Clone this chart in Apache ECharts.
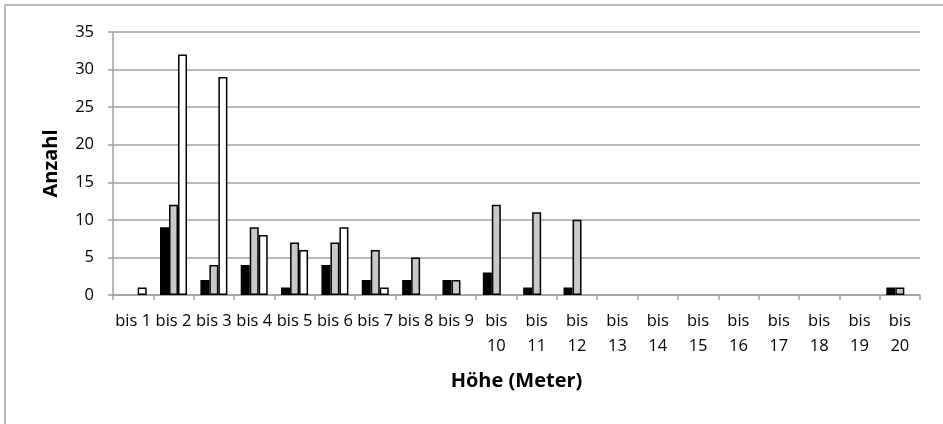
<!DOCTYPE html>
<html>
<head>
<meta charset="utf-8">
<script src="https://cdn.jsdelivr.net/npm/echarts@6/dist/echarts.min.js"></script>
<style>
  html, body { margin: 0; padding: 0; background: #fff; }
  #chart { width: 943px; height: 424px; }
</style>
</head>
<body>
<div id="chart"></div>
<script>
const categories = [
  "bis 1", "bis 2", "bis 3", "bis 4", "bis 5", "bis 6", "bis 7", "bis 8", "bis 9", "bis 10",
  "bis 11", "bis 12", "bis 13", "bis 14", "bis 15", "bis 16", "bis 17", "bis 18", "bis 19", "bis 20"
];
const blackValues = [0, 9, 2, 4, 1, 4, 2, 2, 2, 3, 1, 1, 0, 0, 0, 0, 0, 0, 0, 1];
const grayValues  = [0, 12, 4, 9, 7, 7, 6, 5, 2, 12, 11, 10, 0, 0, 0, 0, 0, 0, 0, 1];
const whiteValues = [1, 32, 29, 8, 6, 9, 1, 0, 0, 0, 0, 0, 0, 0, 0, 0, 0, 0, 0, 0];

const font = "'Open Sans', sans-serif";

// zero values are not drawn (Excel shows nothing there)
const bars = (values) => values.map((v) => (v === 0 ? null : v));

const makeSeries = (name, values, color) => ({
  name,
  type: "bar",
  data: bars(values),
  barWidth: 9,
  barGap: "0%",
  itemStyle: { color, borderColor: "#000", borderWidth: 1.5 },
  animation: false,
});

const chart = echarts.init(document.getElementById("chart"));
chart.setOption({
  backgroundColor: "#fff",
  animation: false,
  graphic: [
    {
      type: "rect",
      shape: { x: 5, y: 5, width: 960, height: 440 },
      style: { fill: "none", stroke: "#a6a6a6", lineWidth: 1.5 },
      silent: true,
    },
  ],
  grid: { left: 113, right: 23, top: 32, bottom: 129 },
  xAxis: {
    type: "category",
    data: categories,
    name: "Höhe (Meter)",
    nameLocation: "middle",
    nameGap: 76,
    nameTextStyle: { fontFamily: font, fontWeight: "bold", fontSize: 20, color: "#000" },
    axisLine: { lineStyle: { color: "#a0a0a0", width: 1.5 } },
    axisTick: { show: true, length: 5, lineStyle: { color: "#a0a0a0", width: 1.5 } },
    axisLabel: {
      interval: 0,
      margin: 14,
      fontFamily: font,
      fontSize: 16.5,
      color: "#000",
      lineHeight: 25,
      formatter: (v) => (v.length > 5 ? v.replace(" ", "\n") : v),
    },
  },
  yAxis: {
    type: "value",
    min: 0,
    max: 35,
    interval: 5,
    name: "Anzahl",
    nameLocation: "middle",
    nameGap: 52,
    nameTextStyle: { fontFamily: font, fontWeight: "bold", fontSize: 20, color: "#000" },
    axisLine: { show: true, lineStyle: { color: "#a0a0a0", width: 1.5 } },
    axisTick: { show: true, length: 5, lineStyle: { color: "#a0a0a0", width: 1.5 } },
    axisLabel: { margin: 19, fontFamily: font, fontSize: 16.5, color: "#000" },
    splitLine: { lineStyle: { color: "#a0a0a0", width: 1.5 } },
  },
  series: [
    makeSeries("schwarz", blackValues, "#000"),
    makeSeries("grau", grayValues, "#c8c8c8"),
    makeSeries("weiß", whiteValues, "#fff"),
  ],
});
</script>
</body>
</html>
